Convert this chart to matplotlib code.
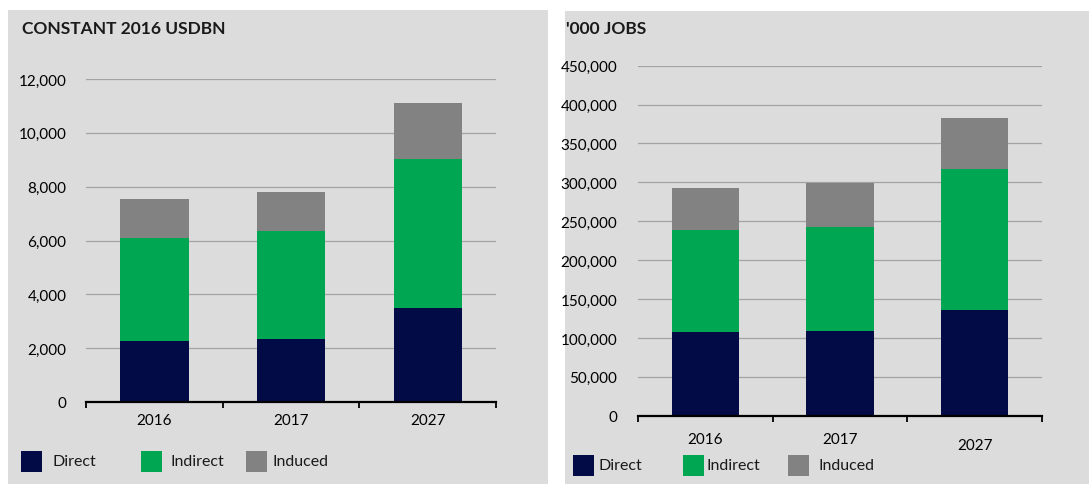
import matplotlib.pyplot as plt
import numpy as np
from matplotlib.patches import Rectangle
from matplotlib.ticker import FuncFormatter
import matplotlib.transforms as mtransforms

plt.rcParams['font.family'] = ['Lato', 'DejaVu Sans']

years = ['2016', '2017', '2027']
series = ['Direct', 'Indirect', 'Induced']
colors = ['#020b45', '#00a651', '#828282']

# total economic contribution, constant 2016 USD bn
gdp_direct = [2250, 2340, 3490]
gdp_indirect = [3830, 4000, 5540]
gdp_induced = [1450, 1470, 2080]

# employment
jobs_direct = [107000, 109300, 136300]
jobs_indirect = [132100, 133700, 180800]
jobs_induced = [53600, 55700, 65200]

W, H = 1089, 485
panel_bg = '#dcdcdc'


def px(x, y):
    return x / W, 1 - y / H


fig = plt.figure(figsize=(W / 100, H / 100), dpi=100)
fig.patch.set_facecolor('white')

# grey panels behind each chart
for x0, y0, x1 in [(8, 11, 548), (565, 12, 1089)]:
    fx, fy = px(x0, H)
    fig.patches.append(Rectangle((fx, fy), (x1 - x0) / W, (H - y0) / H,
                                 transform=fig.transFigure, facecolor=panel_bg,
                                 edgecolor='none', zorder=-5))


def draw_stack(ax, stacks, ymax, step, pad):
    ax.set_zorder(3)
    x = np.arange(len(years))
    bottom = np.zeros(len(years))
    for vals, c in zip(stacks, colors):
        ax.bar(x, vals, width=0.5, bottom=bottom, color=c, zorder=3)
        bottom += np.array(vals)
    ax.set_xlim(-0.5, len(years) - 0.5)
    ax.set_ylim(0, ymax)
    ticks = np.arange(0, ymax + 1, step)
    ax.set_yticks(ticks)
    ax.yaxis.set_major_formatter(FuncFormatter(lambda v, p: f'{int(v):,}'))
    for t in ticks[1:]:
        ax.axhline(t, color='#a3a3a3', lw=0.9, zorder=1)
    ax.patch.set_visible(False)
    for s in ['top', 'right', 'left']:
        ax.spines[s].set_visible(False)
    ax.spines['bottom'].set_linewidth(1.6)
    ax.spines['bottom'].set_zorder(4)
    ax.set_xticks(x)
    ax.set_xticklabels(years)
    ax.set_xticks(np.arange(-0.5, len(years)), minor=True)
    ax.tick_params(axis='x', which='major', length=0, pad=8, labelsize=11)
    ax.tick_params(axis='x', which='minor', length=4, width=1.3, direction='out')
    ax.tick_params(axis='y', length=0, pad=pad, labelsize=11)


ax1 = fig.add_axes([86 / W, 1 - 403 / H, 410 / W, 323 / H])
draw_stack(ax1, [gdp_direct, gdp_indirect, gdp_induced], 12000, 2000, 14)

ax2 = fig.add_axes([638 / W, 1 - 416.7 / H, 404 / W, 350 / H])
draw_stack(ax2, [jobs_direct, jobs_indirect, jobs_induced], 450000, 50000, 15)
ax2.tick_params(axis='x', which='major', pad=12)
lab = ax2.get_xticklabels()[2]
lab.set_transform(lab.get_transform() +
                  mtransforms.ScaledTranslation(0, -6 / 100, fig.dpi_scale_trans))

fig.text(*px(22, 29), 'CONSTANT 2016 USDBN', fontsize=12.5, fontweight='bold',
         va='center', ha='left', color='#1a1a1a')
fig.text(*px(566, 29), "'000 JOBS", fontsize=12.5, fontweight='bold',
         va='center', ha='left', color='#1a1a1a')

# legends under each chart
legend_rows = [
    (462, [(21, 53), (141, 170), (246, 273)]),
    (466, [(573, 599), (683, 707), (788, 818)]),
]
for yc, items in legend_rows:
    for (sx, tx), name, c in zip(items, series, colors):
        fx, fy = px(sx, yc + 10.5)
        fig.patches.append(Rectangle((fx, fy), 21 / W, 21 / H,
                                     transform=fig.transFigure, facecolor=c,
                                     edgecolor='none', zorder=2))
        fig.text(*px(tx, yc), name, fontsize=11.5, va='center', ha='left',
                 color='#1a1a1a')

fig.savefig('out.png', dpi=100)
